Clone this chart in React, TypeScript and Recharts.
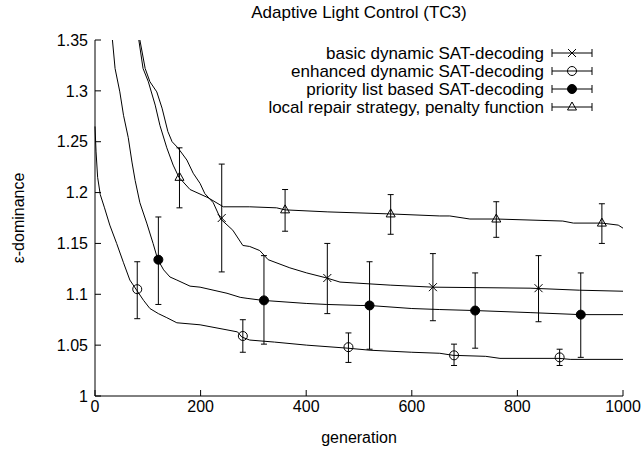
import React from "react";
import {
  ComposedChart,
  Line,
  Scatter,
  ErrorBar,
  XAxis,
  YAxis,
} from "recharts";

// mean curves (generation / epsilon-dominance)
const basicGen = [85, 95, 104, 117, 127, 138, 146, 157, 174, 186, 199, 208, 224, 238, 261, 280, 293, 312, 328, 369, 401, 439, 464, 559, 640, 824, 918, 1000];
const basicVal = [1.35, 1.322, 1.309, 1.299, 1.283, 1.26, 1.25, 1.244, 1.232, 1.219, 1.209, 1.199, 1.19, 1.174, 1.163, 1.148, 1.147, 1.143, 1.134, 1.126, 1.121, 1.116, 1.112, 1.109, 1.107, 1.106, 1.104, 1.103];

const enhGen = [0, 2, 5, 10, 18, 28, 41, 54, 66, 79, 92, 104, 120, 136, 155, 199, 250, 270, 278, 293, 340, 401, 479, 521, 600, 653, 678, 740, 767, 879, 900, 1000];
const enhVal = [1.265, 1.24, 1.215, 1.198, 1.185, 1.168, 1.15, 1.131, 1.114, 1.104, 1.094, 1.086, 1.081, 1.077, 1.072, 1.07, 1.065, 1.063, 1.058, 1.055, 1.053, 1.05, 1.047, 1.045, 1.043, 1.042, 1.04, 1.039, 1.037, 1.037, 1.036, 1.036];

const prioGen = [33, 38, 47, 54, 63, 70, 76, 85, 98, 110, 119, 130, 142, 155, 180, 199, 250, 275, 288, 318, 400, 439, 502, 519, 600, 653, 720, 824, 920, 1000];
const prioVal = [1.35, 1.322, 1.299, 1.276, 1.254, 1.23, 1.212, 1.19, 1.17, 1.15, 1.134, 1.124, 1.117, 1.114, 1.108, 1.107, 1.101, 1.097, 1.096, 1.094, 1.091, 1.09, 1.089, 1.089, 1.086, 1.085, 1.084, 1.082, 1.08, 1.08];

const localGen = [83, 91, 101, 114, 123, 136, 148, 159, 180, 214, 243, 293, 344, 360, 441, 559, 653, 672, 710, 761, 886, 906, 960, 991, 1000];
const localVal = [1.35, 1.322, 1.309, 1.286, 1.266, 1.244, 1.227, 1.215, 1.203, 1.195, 1.186, 1.186, 1.185, 1.183, 1.181, 1.179, 1.177, 1.177, 1.174, 1.174, 1.172, 1.17, 1.17, 1.168, 1.165];

// error bar samples
const basicBarGen = [240, 440, 640, 840];
const basicBarVal = [1.175, 1.116, 1.107, 1.106];
const basicBarLo = [1.122, 1.081, 1.074, 1.073];
const basicBarHi = [1.228, 1.15, 1.14, 1.138];

const enhBarGen = [80, 280, 480, 680, 880];
const enhBarVal = [1.105, 1.059, 1.048, 1.04, 1.038];
const enhBarLo = [1.076, 1.043, 1.033, 1.03, 1.03];
const enhBarHi = [1.132, 1.075, 1.062, 1.051, 1.046];

const prioBarGen = [120, 320, 520, 720, 920];
const prioBarVal = [1.134, 1.094, 1.089, 1.084, 1.08];
const prioBarLo = [1.09, 1.051, 1.046, 1.047, 1.038];
const prioBarHi = [1.176, 1.138, 1.132, 1.121, 1.121];

const localBarGen = [160, 360, 560, 760, 960];
const localBarVal = [1.215, 1.183, 1.179, 1.174, 1.17];
const localBarLo = [1.185, 1.162, 1.159, 1.156, 1.15];
const localBarHi = [1.244, 1.203, 1.198, 1.191, 1.189];

const seriesNames = [
  "basic dynamic SAT-decoding",
  "enhanced dynamic SAT-decoding",
  "priority list based SAT-decoding",
  "local repair strategy, penalty function",
];

const xTicks = [0, 200, 400, 600, 800, 1000];
const yTicks = [1, 1.05, 1.1, 1.15, 1.2, 1.25, 1.3, 1.35];

const FONT = "'Liberation Sans', Arial, Helvetica, sans-serif";
const FS = 16;
const FS_BIG = 17;
const INK = "#000";

const toLine = (gen: number[], val: number[]) =>
  gen.map((g, i) => ({ x: g, y: val[i] }));

const toBars = (gen: number[], val: number[], lo: number[], hi: number[]) =>
  gen.map((g, i) => ({ x: g, y: val[i], err: [val[i] - lo[i], hi[i] - val[i]] }));

type MarkerKind = "cross" | "circle" | "dot" | "triangle";

function Marker({ kind, cx, cy }: { kind: MarkerKind; cx: number; cy: number }) {
  if (kind === "cross") {
    return (
      <g stroke={INK} strokeWidth={1}>
        <line x1={cx - 4} y1={cy - 4} x2={cx + 4} y2={cy + 4} />
        <line x1={cx - 4} y1={cy + 4} x2={cx + 4} y2={cy - 4} />
      </g>
    );
  }
  if (kind === "circle") {
    return <circle cx={cx} cy={cy} r={4.5} fill="none" stroke={INK} strokeWidth={1} />;
  }
  if (kind === "dot") {
    return <circle cx={cx} cy={cy} r={4.5} fill={INK} stroke={INK} />;
  }
  return (
    <path
      d={`M${cx},${cy - 5}L${cx - 4.5},${cy + 3}L${cx + 4.5},${cy + 3}Z`}
      fill="none"
      stroke={INK}
      strokeWidth={1}
    />
  );
}

const kinds: MarkerKind[] = ["cross", "circle", "dot", "triangle"];

const lines = [
  toLine(basicGen, basicVal),
  toLine(enhGen, enhVal),
  toLine(prioGen, prioVal),
  toLine(localGen, localVal),
];

const bars = [
  toBars(basicBarGen, basicBarVal, basicBarLo, basicBarHi),
  toBars(enhBarGen, enhBarVal, enhBarLo, enhBarHi),
  toBars(prioBarGen, prioBarVal, prioBarLo, prioBarHi),
  toBars(localBarGen, localBarVal, localBarLo, localBarHi),
];

function LegendBox() {
  return (
    <svg
      width={644}
      height={449}
      style={{ position: "absolute", left: 0, top: 0, pointerEvents: "none" }}
    >
      {seriesNames.map((name, i) => {
        const y = 53 + i * 18;
        return (
          <g key={name}>
            <text
              x={544}
              y={y}
              textAnchor="end"
              dominantBaseline="central"
              fontSize={FS_BIG}
              fontFamily={FONT}
              fill={INK}
            >
              {name}
            </text>
            <g stroke={INK} strokeWidth={1}>
              <line x1={552} y1={y} x2={592} y2={y} />
              <line x1={552} y1={y - 4} x2={552} y2={y + 4} />
              <line x1={592} y1={y - 4} x2={592} y2={y + 4} />
            </g>
            <Marker kind={kinds[i]} cx={572} cy={y} />
          </g>
        );
      })}
    </svg>
  );
}

export default function App() {
  const tickStyle = { fill: INK, fontSize: FS, fontFamily: FONT };
  return (
    <div
      style={{
        position: "absolute",
        left: 0,
        top: 0,
        width: 644,
        height: 449,
        background: "#fff",
        fontFamily: FONT,
      }}
    >
      <div
        style={{
          position: "absolute",
          left: 95,
          width: 528,
          top: 3,
          textAlign: "center",
          fontSize: FS_BIG,
          color: INK,
        }}
      >
        Adaptive Light Control (TC3)
      </div>
      <ComposedChart
        width={644}
        height={449}
        margin={{ top: 40, right: 21, bottom: 23, left: 0 }}
      >
        <XAxis
          xAxisId="main"
          dataKey="x"
          type="number"
          domain={[0, 1000]}
          ticks={xTicks}
          height={30}
          stroke={INK}
          tickSize={-6}
          tickMargin={11}
          tick={tickStyle}
          label={{
            content: ({ viewBox }: any) => (
              <text
                x={viewBox.x + viewBox.width / 2}
                y={viewBox.y + 47}
                textAnchor="middle"
                fontSize={FS}
                fontFamily={FONT}
                fill={INK}
              >
                generation
              </text>
            ),
          }}
        />
        <XAxis
          xAxisId="top"
          orientation="top"
          type="number"
          domain={[0, 1000]}
          ticks={xTicks}
          height={0}
          stroke={INK}
          tickSize={-6}
          tick={false}
        />
        <YAxis
          yAxisId="main"
          dataKey="y"
          type="number"
          domain={[1, 1.35]}
          ticks={yTicks}
          allowDataOverflow
          width={95}
          stroke={INK}
          tickSize={-6}
          tickMargin={13}
          tick={tickStyle}
          tickFormatter={(v: number) => String(+v.toFixed(2))}
          label={{
            content: ({ viewBox }: any) => {
              const cx = 18;
              const cy = viewBox.y + viewBox.height / 2;
              return (
                <text
                  x={cx}
                  y={cy}
                  transform={`rotate(-90 ${cx} ${cy})`}
                  textAnchor="middle"
                  dominantBaseline="central"
                  fontSize={FS}
                  fontFamily={FONT}
                  fill={INK}
                >
                  ε-dominance
                </text>
              );
            },
          }}
        />
        <YAxis
          yAxisId="right"
          orientation="right"
          type="number"
          domain={[1, 1.35]}
          ticks={yTicks}
          width={0}
          stroke={INK}
          tickSize={-6}
          tick={false}
        />
        {lines.map((d, i) => (
          <Line
            key={"l" + i}
            xAxisId="main"
            yAxisId="main"
            data={d}
            dataKey="y"
            type="linear"
            stroke={INK}
            strokeWidth={1}
            dot={false}
            activeDot={false}
            isAnimationActive={false}
          />
        ))}
        {bars.map((d, i) => (
          <Scatter
            key={"s" + i}
            xAxisId="main"
            yAxisId="main"
            data={d}
            isAnimationActive={false}
            shape={(p: any) => <Marker kind={kinds[i]} cx={p.cx} cy={p.cy} />}
          >
            <ErrorBar
              dataKey="err"
              direction="y"
              width={3}
              stroke={INK}
              strokeWidth={1}
              isAnimationActive={false}
            />
          </Scatter>
        ))}
      </ComposedChart>
      <LegendBox />
    </div>
  );
}
